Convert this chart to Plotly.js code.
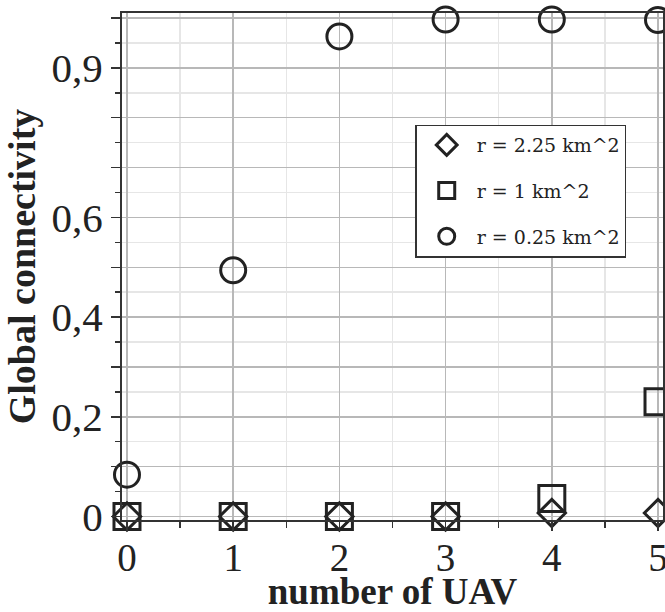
<!DOCTYPE html>
<html>
<head>
<meta charset="utf-8">
<script src="https://cdn.plot.ly/plotly-3.0.1.min.js"></script>
<style>html,body{margin:0;padding:0;background:#fff;}#chart{width:665px;height:612px;}</style>
</head>
<body>
<div id="chart"></div>
<script>
const uavCounts = [0, 1, 2, 3, 4, 5];
const conn225 = [0, 0, 0, 0, 0.007, 0.007];
const conn1 = [0, 0, 0, 0, 0.036, 0.230];
const conn025 = [0.084, 0.494, 0.963, 0.997, 0.997, 0.996];
const seriesNames = ['r = 2.25 km^2', 'r = 1 km^2', 'r = 0.25 km^2'];
const xTickVals = [0, 1, 2, 3, 4, 5];
const xTickText = ['0', '1', '2', '3', '4', '5'];
const yTickVals = [0, 0.1, 0.2, 0.3, 0.4, 0.5, 0.6, 0.7, 0.8, 0.9, 1.0];
const yTickText = ['0', '', '0,2', '', '0,4', '', '0,6', '', '', '0,9', ''];

const ink = '#222222';
const serif = 'Liberation Serif, Times New Roman, serif';

function mk(y, name, symbol, size) {
  return {
    x: uavCounts, y: y, name: name, type: 'scatter', mode: 'markers',
    cliponaxis: false, legendgroup: name,
    marker: {symbol: symbol, size: size, color: ink, line: {width: 3, color: ink}}
  };
}

const data = [
  mk(conn225, seriesNames[0], 'diamond-open', 21),
  mk(conn1, seriesNames[1], 'square-open', 26),
  mk(conn025, seriesNames[2], 'circle-open', 25)
];

const layout = {
  width: 665, height: 612,
  margin: {l: 122, r: 2, t: 13, b: 92},
  paper_bgcolor: '#ffffff', plot_bgcolor: '#ffffff',
  font: {family: serif, color: ink},
  showlegend: true,
  legend: {
    x: 0.542, y: 0.78, xanchor: 'left', yanchor: 'top',
    bgcolor: '#ffffff', bordercolor: '#333333', borderwidth: 1.5,
    font: {family: 'DejaVu Serif, serif', size: 19, color: ink},
    itemwidth: 50,
    traceorder: 'grouped', tracegroupgap: 18
  },
  xaxis: {
    range: [-0.047, 5.047], tickmode: 'array', tickvals: xTickVals, ticktext: xTickText,
    showline: true, mirror: true, linecolor: '#333333', linewidth: 2,
    showgrid: true, gridcolor: '#b8b8b8', gridwidth: 1.5, zeroline: false,
    ticks: 'outside', ticklen: 9, tickcolor: '#333333', tickwidth: 1.5,
    ticklabeloverflow: 'allow', ticklabelstandoff: -7,
    tickfont: {family: serif, size: 39, color: ink},
    minor: {tick0: 0, dtick: 0.5, ticks: 'outside', ticklen: 6, tickcolor: '#333333', tickwidth: 1.5,
            showgrid: true, gridcolor: '#e6e6e6', gridwidth: 1.5},
    title: {text: '<b>number of UAV</b>', font: {family: serif, size: 37, color: ink}}
  },
  yaxis: {
    range: [-0.007, 1.01], tickmode: 'array', tickvals: yTickVals, ticktext: yTickText,
    showline: true, mirror: true, linecolor: '#333333', linewidth: 2,
    showgrid: true, gridcolor: '#b8b8b8', gridwidth: 1.5, zeroline: false,
    ticks: 'outside', ticklen: 9, tickcolor: '#333333', tickwidth: 1.5,
    tickfont: {family: serif, size: 41, color: ink},
    minor: {tick0: 0, dtick: 0.05, ticks: 'outside', ticklen: 5, tickcolor: '#333333', tickwidth: 1.5,
            showgrid: true, gridcolor: '#e6e6e6', gridwidth: 1.5},
    title: {text: '<b>Global connectivity</b>', font: {family: serif, size: 38, color: ink}}
  }
};

Plotly.newPlot('chart', data, layout, {displayModeBar: false, staticPlot: true});
</script>
</body>
</html>
